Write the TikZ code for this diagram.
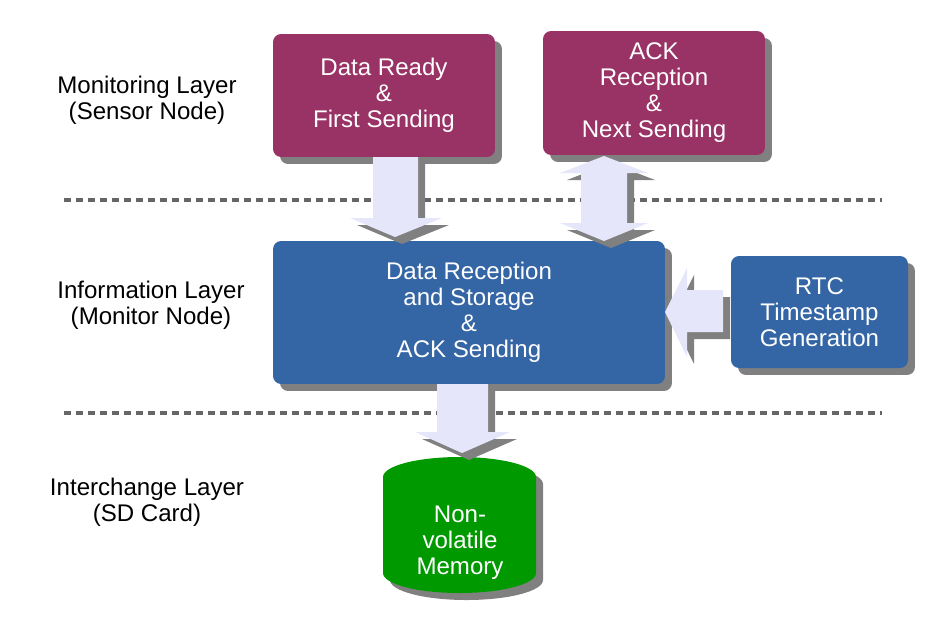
\documentclass[tikz,border=0pt]{standalone}
\usepackage{fontspec}
\setmainfont{Liberation Sans}
\usetikzlibrary{positioning,shadows}
\definecolor{sensorred}{HTML}{993366}
\definecolor{monitorblue}{HTML}{3465A4}
\definecolor{cardgreen}{HTML}{009900}
\definecolor{flowfill}{HTML}{E6E6FA}
\definecolor{shadowgray}{HTML}{808080}
\definecolor{layergray}{HTML}{666666}

\begin{document}
\begin{tikzpicture}[x=0.02cm,y=-0.02cm,font=\fontsize{13.7}{14.8}\selectfont]
\tikzset{
  dropsh/.style={drop shadow={shadow xshift=0.14cm,shadow yshift=-0.14cm,fill=shadowgray,opacity=1}},
  B/.style={rectangle,rounded corners=0.16cm,inner sep=0pt,align=center,text=white,dropsh},
  L/.style={align=center,text=black},
  F/.style={fill=flowfill,dropsh},
  layerline/.style={draw=layergray,line width=0.07cm,dash pattern=on 0.14cm off 0.1cm}
}

  \useasboundingbox (0,0) rectangle (935,626);

  % layer separators
  \draw[layerline] (64,200) -- (882,200);
  \draw[layerline] (64,413) -- (882,413);

  % layer labels
  \node[L] (lsensor)  at (147,100) {Monitoring Layer\\(Sensor Node)};
  \node[L] (lmonitor) at (151,305) {Information Layer\\(Monitor Node)};
  \node[L] (lcard)    at (147,502) {Interchange Layer\\(SD Card)};

  % blocks
  \node[B,fill=sensorred,minimum width=4.44cm,minimum height=2.46cm] (ready) at (384,95.5) {Data Ready\\\&\\First Sending};
  \node[B,fill=sensorred,minimum width=4.44cm,minimum height=2.48cm] (ackrx) at (654,93) {ACK\\Reception\\\&\\Next Sending};
  \node[B,fill=monitorblue,minimum width=7.84cm,minimum height=2.86cm] (recv) at (469,312.5) {Data Reception\\and Storage\\\&\\ACK Sending};
  \node[B,fill=monitorblue,minimum width=3.54cm,minimum height=2.24cm] (rtc) at (819.5,312) {RTC\\Timestamp\\Generation};

  % memory
  \fill[cardgreen,dropsh] (383,477) -- (383,573) arc[start angle=180,end angle=0,x radius=76.5,y radius=20]
    -- (536,477) arc[start angle=0,end angle=-180,x radius=76.5,y radius=20] -- cycle;
  \node[L,text=white] (mem) at (460,543) {Non-\\volatile\\Memory};

  % flow arrows
  \fill[F] (373,157) -- (418,157) -- (418,218) -- (442,218) -- (395,237) -- (350,218) -- (373,218) -- cycle;
  \fill[F] (604,156) -- (648,173) -- (627,173) -- (627,223) -- (648,223) -- (604,241)
    -- (560,223) -- (581,223) -- (581,173) -- (560,173) -- cycle;
  \fill[F] (665,312) -- (687,268) -- (687,290) -- (723,290) -- (723,332) -- (687,332) -- (687,357) -- cycle;
  \fill[F] (437,384) -- (488,384) -- (488,432) -- (510,432) -- (462,453) -- (415,432) -- (437,432) -- cycle;
\end{tikzpicture}
\end{document}
